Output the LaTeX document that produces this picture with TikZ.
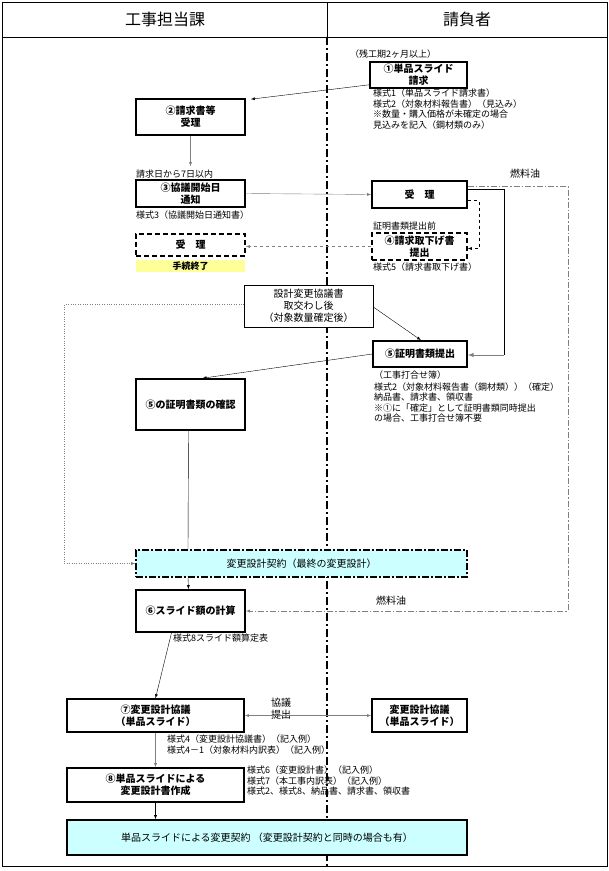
\documentclass[tikz,border=0pt]{standalone}
\usepackage{fontspec}
\setmainfont{Noto Sans CJK JP}
\usetikzlibrary{calc}
\definecolor{keiyaku}{HTML}{CCFFFF}
\definecolor{shuryo}{HTML}{FFFF99}
\definecolor{senIro}{HTML}{808080}

\begin{document}
\begin{tikzpicture}[x=1pt,y=-1pt,
  stepbox/.style={draw,line width=1.6pt,fill=white,align=center,inner sep=0pt,
    font=\fontsize{10}{12}\selectfont\bfseries},
  dashbox/.style={stepbox,dashed,dash pattern=on 5pt off 3pt},
  plainbox/.style={draw,line width=0.6pt,fill=white,align=center,inner sep=0pt,
    font=\fontsize{10}{12}\selectfont},
  chuki/.style={anchor=north west,align=left,inner sep=0pt,
    font=\fontsize{9}{10.5}\selectfont},
  komidashi/.style={font=\fontsize{16}{19}\selectfont}]
\useasboundingbox (0,0) rectangle (609,871);

% waku
\draw[line width=1pt] (2,2) rectangle (607,866);
\draw[line width=1pt] (2,37) -- (607,37);
\draw[line width=1pt] (327,2) -- (327,37);
\draw[line width=1.6pt,dash pattern=on 8pt off 3pt on 2pt off 3pt] (327,37) -- (327,866);
\node[komidashi] (hL) at (165,19) {工事担当課};
\node[komidashi] (hR) at (467,19) {請負者};

% ukeoisha gawa
\node[chuki,anchor=west] (zan) at (350,54) {（残工期2ヶ月以上）};
\node[stepbox,minimum width=97,minimum height=26] (1) at (418.5,75) {①単品スライド\\請求};
\node[chuki] (c1) at (373,89) {様式1（単品スライド請求書）\\様式2（対象材料報告書）（見込み）\\※数量・購入価格が未確定の場合\\見込みを記入（鋼材類のみ）};
\node[stepbox,minimum width=95,minimum height=27] (uke) at (419.5,194.5) {受　理};
\node[chuki,anchor=west] (t4a) at (373,226) {証明書類提出前};
\node[dashbox,minimum width=95,minimum height=27] (4) at (419.5,246.5) {④請求取下げ書\\提出};
\node[chuki,anchor=west] (t4b) at (373,267) {様式5（請求書取下げ書）};
\node[stepbox,minimum width=94,minimum height=26] (5) at (420,354) {⑤証明書類提出};
\node[chuki,align=left] (c5) at (374,371) {（工事打合せ簿）\\[1pt]様式2（対象材料報告書（鋼材類））（確定）\\納品書、請求書、領収書\\※①に「確定」として証明書類同時提出\\の場合、工事打合せ簿不要};
\node[plainbox,minimum width=129,minimum height=42] (kawase) at (308.5,306) {設計変更協議書\\取交わし後\\（対象数量確定後）};
\node[stepbox,minimum width=95,minimum height=33] (7r) at (419.5,715.5) {変更設計協議\\（単品スライド）};

% koji tanto ka gawa
\node[stepbox,minimum width=109,minimum height=36] (2) at (190.5,117) {②請求書等\\受理};
\node[chuki,anchor=west] (t3a) at (136,174) {請求日から7日以内};
\node[stepbox,minimum width=109,minimum height=27] (3) at (190.5,193.5) {③協議開始日\\通知};
\node[chuki,anchor=west] (t3b) at (136,215) {様式3（協議開始日通知書）};
\node[dashbox,minimum width=109,minimum height=22] (ukeL) at (190.5,245) {受　理};
\node[fill=shuryo,minimum width=109,minimum height=12,inner sep=0pt,
  font=\fontsize{9}{10}\selectfont\bfseries] (owari) at (190.5,266) {手続終了};
\node[stepbox,minimum width=109,minimum height=51] (5k) at (190.5,404.5) {⑤の証明書類の確認};
\node[stepbox,dash pattern=on 7pt off 2pt on 2pt off 2pt,fill=keiyaku,
  font=\fontsize{10}{12}\selectfont,minimum width=331,minimum height=27] (henko) at (301.5,563.5) {変更設計契約（最終の変更設計）};
\node[stepbox,minimum width=109,minimum height=42] (6) at (190.5,611) {⑥スライド額の計算};
\node[chuki,anchor=west] (t6) at (173,638) {様式8スライド額算定表};
\node[stepbox,minimum width=177,minimum height=33] (7) at (155.5,715.5) {⑦変更設計協議\\（単品スライド）};
\node[chuki,anchor=center,align=center,font=\fontsize{10}{12}\selectfont] (t7) at (281,709) {協議\\提出};
\node[chuki] (c7) at (167,735) {様式4（変更設計協議書）（記入例）\\様式4－1（対象材料内訳表）（記入例）};
\node[stepbox,minimum width=177,minimum height=34] (8) at (155.5,785) {⑧単品スライドによる\\変更設計書作成};
\node[chuki] (c8) at (247,766) {様式6（変更設計書）（記入例）\\様式7（本工事内訳表）（記入例）\\様式2、様式8、納品書、請求書、領収書};
\node[stepbox,fill=keiyaku,font=\fontsize{10}{12}\selectfont,minimum width=400,minimum height=35] (fin) at (267,837.5) {単品スライドによる変更契約 （変更設計契約と同時の場合も有）};
\node[chuki,anchor=center,font=\fontsize{10}{12}\selectfont] (nen1) at (525,174) {燃料油};
\node[chuki,anchor=center,font=\fontsize{10}{12}\selectfont] (nen2) at (391,601) {燃料油};

% yajirushi
\path[draw,-latex] ($(1.south west)+(0,-4)$) -- ($(2.north east)+(5,1)$);
\path[draw,senIro,-latex] (2.south) -- ($(3.north)+(0,-13)$);
\path[draw,senIro,-latex] (3.east) -- (uke.west);
\path[draw,dashed,-latex] ($(uke.east)+(0,6)$) -| ($(4.east)+(11,2)$) -- ($(4.east)+(0,2)$);
\path[draw,dashed,senIro,-latex] (4.west) -- (4.west -| ukeL.east);
\path[draw] ($(uke.east)+(0,-5)$) -| ($(5.east)+(36,1)$);
\path[draw,senIro,line width=1pt,-latex] ($(5.east)+(36,1)$) -- ($(5.east)+(0,1)$);
\path[draw,senIro,dash pattern=on 6pt off 2pt on 1.5pt off 2pt,-latex]
  ($(uke.east)+(0,-8)$) -- ($(uke.east)+(100,-8)$) |- (6.east);
\path[draw,-latex] ($(kawase.east)+(0,1)$) -- ($(5.north)+(1,0)$);
\path[draw,-latex] (5.west) -- ($(5k.north)+(12,0)$);
\path[draw,senIro,dotted,-latex] ($(kawase.west)+(0,-2)$) -| ($(henko.west)+(-71,0)$) -- (henko.west);
\path[draw] ($(5k.south)+(-2,0)$) -- ($(henko.north)+(-113.5,0)$);
\path[draw,-latex] ($(henko.south)+(-113.5,0)$) -- ($(6.north)+(-2,0)$);
\path[draw,-latex] ($(6.south)+(-19,0)$) -- (7.north);
\path[draw,senIro,latex-latex] (7.east) -- (7r.west);
\path[draw,senIro,-latex] (7.south) -- (8.north);
\path[draw,-latex] (8.south) -- (8.south |- fin.north);
\end{tikzpicture}
\end{document}
